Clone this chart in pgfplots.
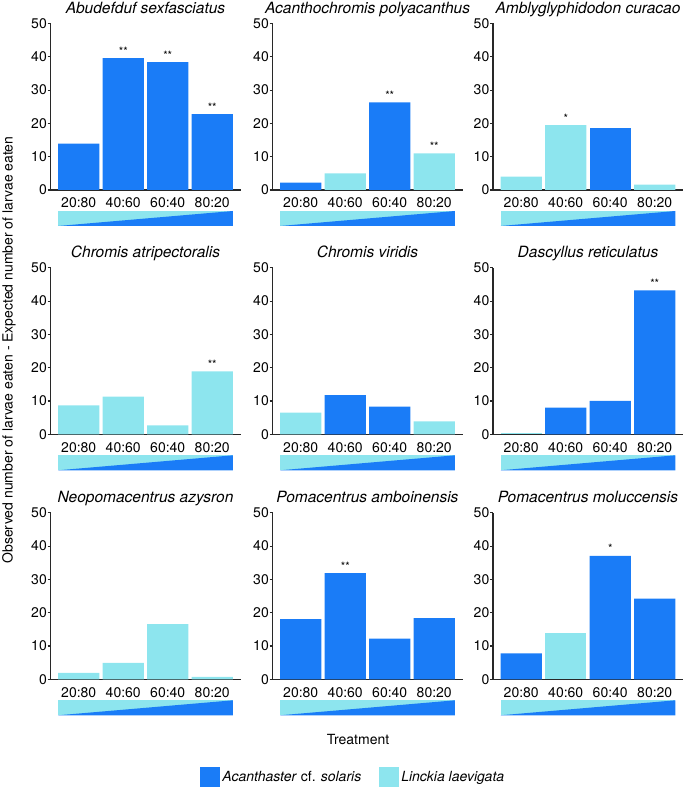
\documentclass[border=0pt]{standalone}
\usepackage{fontspec}
\setmainfont{TeX Gyre Heros}
\setsansfont{TeX Gyre Heros}
\usepackage{pgfplots}
\pgfplotsset{compat=1.18}

\definecolor{darkb}{RGB}{26,124,247}
\definecolor{lightb}{RGB}{141,229,238}
\definecolor{axc}{RGB}{40,40,40}

\newcommand{\gradbar}{%
  \fill[lightb] ([yshift=-21pt]axis cs:-0.465,0) rectangle ([yshift=-36pt]axis cs:3.465,0);
  \fill[darkb] ([yshift=-36pt]axis cs:-0.465,0) -- ([yshift=-21pt]axis cs:3.465,0) -- ([yshift=-36pt]axis cs:3.465,0) -- cycle;
}

\pgfplotsset{
  panel/.style={
    scale only axis, width=190pt, height=166.5pt,
    xmin=-0.635, xmax=3.635, ymin=0, ymax=50,
    axis x line*=bottom, axis y line*=left,
    axis line style={axc, line width=1.1pt},
    ytick={0,10,20,30,40,50}, xtick={0,1,2,3},
    xticklabels={20:80,40:60,60:40,80:20},
    tick align=outside, major tick length=3pt,
    ytick style={axc, line width=1.1pt},
    xtick style={draw=none},
    tick label style={font=\fontsize{14}{14}\selectfont, text=black},
    /pgf/number format/assume math mode=true,
    yticklabel style={inner xsep=0.5pt},
    xticklabel style={yshift=-1.3pt},
    every axis title shift=0pt,
    title style={font=\fontsize{15.5}{15.5}\selectfont\itshape, at={(0.5,1)}, anchor=base, inner sep=0pt, yshift=10pt},
    clip=false,
  },
  dk/.style={ybar, bar width=0.93, bar shift=0pt, fill=darkb, draw=none, forget plot},
  lt/.style={ybar, bar width=0.93, bar shift=0pt, fill=lightb, draw=none, forget plot},
  st/.style={draw=none, mark=none, forget plot, nodes near coords, point meta=explicit symbolic,
    nodes near coords style={font=\fontsize{11.5}{11.5}\selectfont, anchor=base, yshift=3pt, inner sep=0pt}},
  sqleg/.style={legend image code/.code={\fill[##1] (0pt,-10pt) rectangle (20pt,10pt);}},
}

\begin{document}
\begin{tikzpicture}
\useasboundingbox (0pt,0pt) rectangle (685pt,788pt);

% Row 1
\begin{axis}[panel, at={(50.5pt,598pt)}, anchor=south west, title={Abudefduf sexfasciatus}]
  \addplot[dk] coordinates {(0,13.9) (1,39.6) (2,38.4) (3,22.8)};
  \addplot[st] coordinates {(1,39.6)[**] (2,38.4)[**] (3,22.8)[**]};
  \gradbar
\end{axis}
\begin{axis}[panel, at={(272.5pt,598pt)}, anchor=south west, title={Acanthochromis polyacanthus}]
  \addplot[dk] coordinates {(0,2.2) (2,26.3)};
  \addplot[lt] coordinates {(1,5.0) (3,11.0)};
  \addplot[st] coordinates {(2,26.3)[**] (3,11.0)[**]};
  \gradbar
\end{axis}
\begin{axis}[panel, at={(493pt,598pt)}, anchor=south west, title={Amblyglyphidodon curacao}]
  \addplot[lt] coordinates {(0,4.0) (1,19.5) (3,1.6)};
  \addplot[dk] coordinates {(2,18.7)};
  \addplot[st] coordinates {(1,19.5)[*]};
  \gradbar
\end{axis}

% Row 2
\begin{axis}[panel, at={(50.5pt,353.7pt)}, anchor=south west, title={Chromis atripectoralis}]
  \addplot[lt] coordinates {(0,8.7) (1,11.3) (2,2.7) (3,18.9)};
  \addplot[st] coordinates {(3,18.9)[**]};
  \gradbar
\end{axis}
\begin{axis}[panel, at={(272.5pt,353.7pt)}, anchor=south west, title={Chromis viridis}]
  \addplot[lt] coordinates {(0,6.5) (3,3.9)};
  \addplot[dk] coordinates {(1,11.8) (2,8.3)};
  \gradbar
\end{axis}
\begin{axis}[panel, at={(493pt,353.7pt)}, anchor=south west, title={Dascyllus reticulatus}]
  \addplot[lt] coordinates {(0,0.3)};
  \addplot[dk] coordinates {(1,8.0) (2,10.0) (3,43.2)};
  \addplot[st] coordinates {(3,43.2)[**]};
  \gradbar
\end{axis}

% Row 3
\begin{axis}[panel, at={(50.5pt,108.7pt)}, anchor=south west, title={Neopomacentrus azysron}]
  \addplot[lt] coordinates {(0,1.9) (1,4.9) (2,16.6) (3,0.7)};
  \gradbar
\end{axis}
\begin{axis}[panel, at={(272.5pt,108.7pt)}, anchor=south west, title={Pomacentrus amboinensis},
    legend columns=2,
    legend style={at={(0.425,-0.587)}, anchor=center, draw=none, fill=none,
      font=\fontsize{14}{14}\selectfont, inner sep=0pt,
      /tikz/every even column/.append style={column sep=16pt}},
    legend cell align=left]
  \addplot[dk] coordinates {(0,18.1) (1,31.9) (2,12.2) (3,18.4)};
  \addplot[st] coordinates {(1,31.9)[**]};
  \gradbar
  \addlegendimage{sqleg, fill=darkb, draw=none}
  \addlegendentry{\textit{Acanthaster} cf. \textit{solaris}}
  \addlegendimage{sqleg, fill=lightb, draw=none}
  \addlegendentry{\textit{Linckia laevigata}}
\end{axis}
\begin{axis}[panel, at={(493pt,108.7pt)}, anchor=south west, title={Pomacentrus moluccensis}]
  \addplot[dk] coordinates {(0,7.8) (2,37.1) (3,24.2)};
  \addplot[lt] coordinates {(1,14.0)};
  \addplot[st] coordinates {(2,37.1)[*]};
  \gradbar
\end{axis}

\node[rotate=90, font=\fontsize{14}{14}\selectfont, anchor=center] at (9pt,438pt) {Observed number of larvae eaten - Expected number of larvae eaten};
\node[font=\fontsize{14}{14}\selectfont, anchor=center] at (358pt,48pt) {Treatment};
\end{tikzpicture}
\end{document}
